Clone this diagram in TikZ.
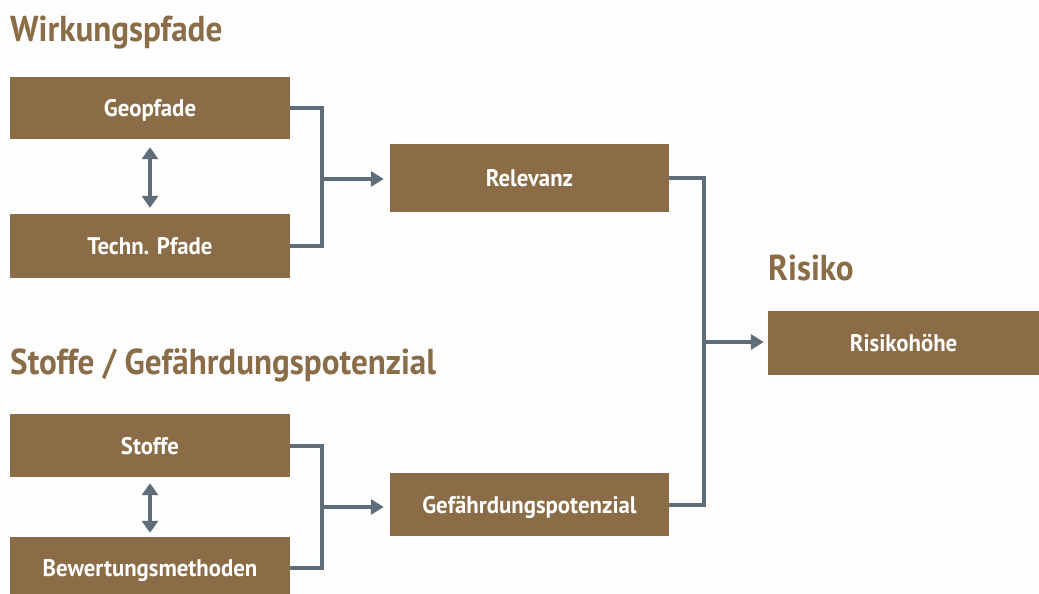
\documentclass[tikz,border=0pt]{standalone}
\usepackage{fontspec}
\newfontfamily\condfont{PT Sans}[FakeStretch=0.95]
\newfontfamily\headfont{PT Sans}[FakeStretch=0.92]
\usetikzlibrary{arrows.meta}

\definecolor{boxbrown}{HTML}{8A6C46}
\definecolor{linegray}{HTML}{5E6D78}
\definecolor{paper}{HTML}{FDFDFD}

\tikzset{
  box/.style={fill=boxbrown, draw=none, inner sep=0pt, text=white,
    font=\condfont\bfseries\fontsize{24}{24}\selectfont,
    text height=17pt, text depth=0pt},
  heading/.style={text=boxbrown, inner sep=0pt, anchor=base west,
    font=\headfont\bfseries\fontsize{36}{36}\selectfont},
  link/.style={draw=linegray, line width=4pt},
  flow/.style={link, -{Triangle[length=13pt,width=15pt]}},
  both/.style={link, {Triangle[length=12pt,width=16pt]}-{Triangle[length=12pt,width=16pt]}}
}

\begin{document}
\begin{tikzpicture}[x=1pt,y=-1pt]
  \fill[paper] (0,0) rectangle (1039,594);
  \useasboundingbox (0,0) rectangle (1039,594);
  \clip (0,0) rectangle (1039,594);

  % section headings
  \node[heading] (h1) at (10,42) {Wirkungspfade};
  \node[heading] (h2) at (10,374) {Stoffe / Gefährdungspotenzial};
  \node[heading] (h3) at (768,280) {Risiko};

  % boxes
  \node[box, minimum width=280pt, minimum height=62pt] (geo)  at (150,108)   {Geopfade};
  \node[box, minimum width=280pt, minimum height=64pt] (tech) at (150,246)   {Techn. Pfade};
  \node[box, minimum width=279pt, minimum height=68pt] (rel)  at (529.5,178) {Relevanz};
  \node[box, minimum width=271pt, minimum height=64pt] (risk) at (903.5,343) {Risikohöhe};
  \node[box, minimum width=280pt, minimum height=63pt] (sto)  at (150,445.5) {Stoffe};
  \node[box, minimum width=280pt, minimum height=62pt] (bew)  at (150,568)   {Bewertungsmethoden};
  \node[box, minimum width=279pt, minimum height=63pt] (gef)  at (529.5,504.5) {Gefährdungspotenzial};

  % junction points of the brackets
  \coordinate (j1) at (322,179);
  \coordinate (j2) at (704,342);
  \coordinate (j3) at (322,507);

  % brackets and arrows
  \draw[link] (geo.east) -| (j1) |- (tech.east);
  \draw[flow, shorten >=6pt] (j1) -- (j1 -| rel.west);
  \draw[link] (sto.east) -| (j3) |- (bew.east);
  \draw[flow, shorten >=6pt] (j3) -- (j3 -| gef.west);
  \draw[link] (rel.east) -| (j2) |- (gef.east);
  \draw[flow, shorten >=4pt] (j2) -- (j2 -| risk.west);

  % mutual links
  \draw[both, shorten <=8pt, shorten >=6pt] (geo.south) -- (tech.north);
  \draw[both, shorten <=6pt, shorten >=4pt] (sto.south) -- (bew.north);
\end{tikzpicture}
\end{document}
